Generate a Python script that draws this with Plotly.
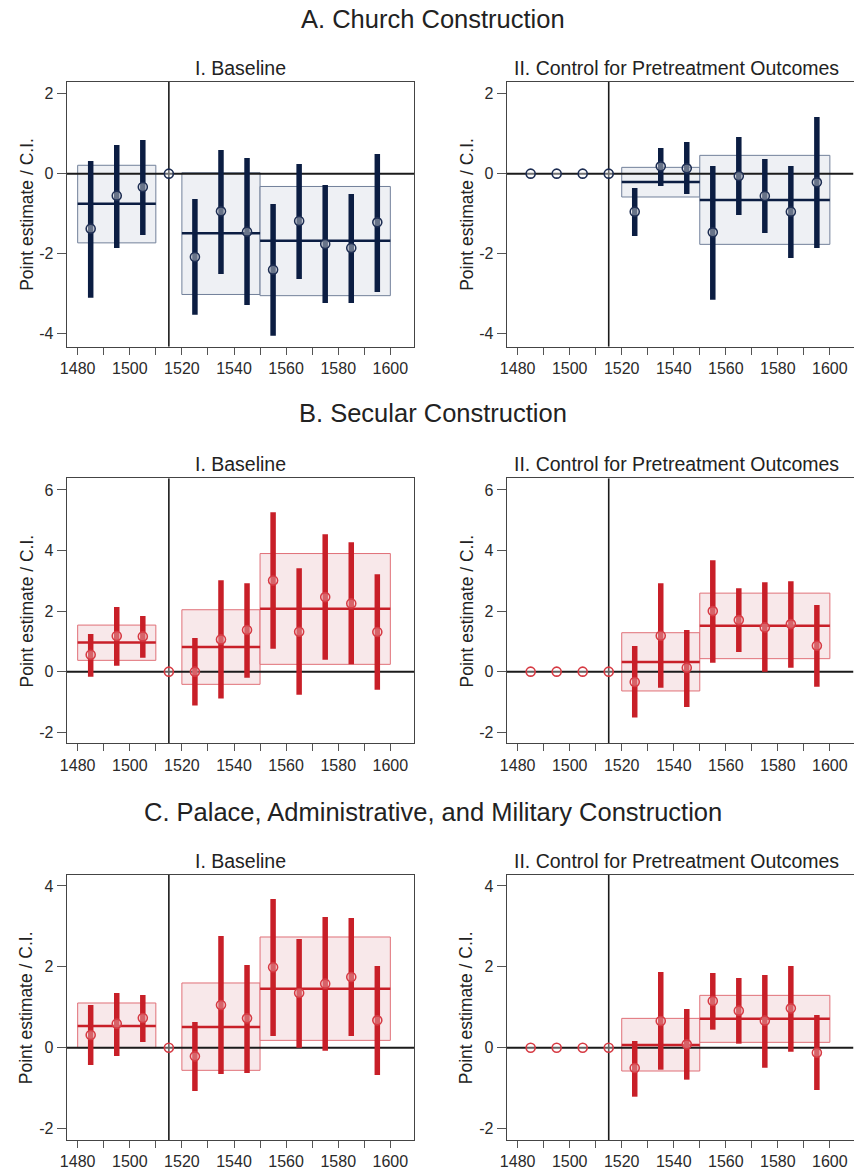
import plotly.graph_objects as go
from plotly.subplots import make_subplots

# ---------------------------------------------------------------- data
YEARS = [1485, 1495, 1505, 1515, 1525, 1535, 1545, 1555, 1565, 1575, 1585, 1595]
REF_YEAR = 1515
PERIOD_START = [1480, 1520, 1550]
PERIOD_END = [1510, 1550, 1600]

X_TICKS = list(range(1480, 1601, 10))
X_TICK_TEXT = [str(v) if v % 20 == 0 else "" for v in X_TICKS]

A_YTICKS = [-4, -2, 0, 2]
B_YTICKS = [-2, 0, 2, 4, 6]
C_YTICKS = [-2, 0, 2, 4]

SECTION_TITLES = [
    "A. Church Construction",
    "B. Secular Construction",
    "C. Palace, Administrative, and Military Construction",
]
COLUMN_TITLES = ["I. Baseline", "II. Control for Pretreatment Outcomes"]
Y_TITLE = "Point estimate / C.I."

# A. Church construction, baseline
a1_est = [-1.375, -0.55, -0.333, 0, -2.083, -0.942, -1.45, -2.4, -1.183, -1.758, -1.858, -1.217]
a1_lo = [-3.1, -1.858, -1.533, None, -3.525, -2.508, -3.283, -4.05, -2.633, -3.233, -3.233, -2.958]
a1_hi = [0.317, 0.717, 0.842, None, -0.633, 0.592, 0.392, -0.758, 0.242, -0.283, -0.508, 0.492]
a1_box_lo = [-1.73, -3.02, -3.05]
a1_box_hi = [0.21, 0.025, -0.32]
a1_box_mean = [-0.75, -1.49, -1.675]

# A. Church construction, pretreatment controls
a2_est = [0, 0, 0, 0, -0.95, 0.183, 0.133, -1.467, -0.058, -0.558, -0.95, -0.217]
a2_lo = [None, None, None, None, -1.558, -0.308, -0.508, -3.15, -1.033, -1.483, -2.108, -1.858]
a2_hi = [None, None, None, None, -0.358, 0.642, 0.792, 0.192, 0.917, 0.367, 0.192, 1.417]
a2_box_lo = [None, -0.583, -1.767]
a2_box_hi = [None, 0.158, 0.458]
a2_box_mean = [None, -0.208, -0.658]

# B. Secular construction, baseline
b1_est = [0.56, 1.176, 1.165, 0, 0.0, 1.066, 1.374, 3.01, 1.319, 2.462, 2.253, 1.308]
b1_lo = [-0.165, 0.198, 0.462, None, -1.12, -0.89, -0.198, 0.758, -0.758, 0.396, 0.242, -0.593]
b1_hi = [1.242, 2.132, 1.835, None, 1.11, 3.02, 2.923, 5.264, 3.418, 4.538, 4.275, 3.22]
b1_box_lo = [0.374, -0.418, 0.242]
b1_box_hi = [1.538, 2.044, 3.9]
b1_box_mean = [0.967, 0.813, 2.077]

# B. Secular construction, pretreatment controls
b2_est = [0, 0, 0, 0, -0.341, 1.187, 0.132, 2.0, 1.703, 1.462, 1.571, 0.857]
b2_lo = [None, None, None, None, -1.516, -0.527, -1.165, 0.297, 0.648, 0.0, 0.132, -0.495]
b2_hi = [None, None, None, None, 0.846, 2.923, 1.374, 3.681, 2.758, 2.956, 2.989, 2.198]
b2_box_lo = [None, -0.637, 0.429]
b2_box_hi = [None, 1.286, 2.593]
b2_box_mean = [None, 0.319, 1.516]

# C. Palace, administrative and military construction, baseline
c1_est = [0.313, 0.594, 0.734, 0, -0.214, 1.055, 0.725, 1.987, 1.352, 1.583, 1.748, 0.676]
c1_lo = [-0.429, -0.206, 0.14, None, -1.072, -0.651, -0.627, 0.289, 0.0, -0.074, 0.289, -0.676]
c1_hi = [1.055, 1.352, 1.303, None, 0.635, 2.762, 2.045, 3.677, 2.688, 3.232, 3.207, 2.02]
c1_box_lo = [0.0, -0.56, 0.181]
c1_box_hi = [1.105, 1.6, 2.737]
c1_box_mean = [0.536, 0.511, 1.459]

# C. Palace, administrative and military construction, pretreatment controls
c2_est = [0, 0, 0, 0, -0.503, 0.66, 0.082, 1.154, 0.915, 0.668, 0.973, -0.124]
c2_lo = [None, None, None, None, -1.212, -0.544, -0.791, 0.445, 0.099, -0.495, -0.099, -1.047]
c2_hi = [None, None, None, None, 0.165, 1.871, 0.956, 1.847, 1.723, 1.797, 2.02, 0.808]
c2_box_lo = [None, -0.577, 0.132]
c2_box_hi = [None, 0.725, 1.294]
c2_box_mean = [None, 0.066, 0.717]

# ---------------------------------------------------------------- styling
FONT = "Liberation Sans, Arial, Helvetica, sans-serif"
W, H = 854, 1171

NAVY = dict(bar="#0b1d42", box_fill="#eef0f4", box_line="#72809a",
            mk_line="#1d2d52", mk_fill="rgba(255,255,255,0.38)")
RED = dict(bar="#c81f28", box_fill="#f8e8ea", box_line="#e07078",
           mk_line="#d63a43", mk_fill="rgba(255,255,255,0.3)")

X_RANGE = [1475.78, 1609.08]
Y_RANGES = {1: [-4.325, 2.3], 2: [-2.366, 6.383], 3: [-2.283, 4.27]}
Y_TICKS = {1: A_YTICKS, 2: B_YTICKS, 3: C_YTICKS}

# pixel frame of every panel
COL_PX = {1: (66.67, 414.0), 2: (506.67, 853.5)}
ROW_PX = {1: (81.67, 346.67), 2: (478.33, 743.33), 3: (875.0, 1140.0)}

panels = [
    (1, 1, a1_est, a1_lo, a1_hi, a1_box_lo, a1_box_hi, a1_box_mean, NAVY),
    (1, 2, a2_est, a2_lo, a2_hi, a2_box_lo, a2_box_hi, a2_box_mean, NAVY),
    (2, 1, b1_est, b1_lo, b1_hi, b1_box_lo, b1_box_hi, b1_box_mean, RED),
    (2, 2, b2_est, b2_lo, b2_hi, b2_box_lo, b2_box_hi, b2_box_mean, RED),
    (3, 1, c1_est, c1_lo, c1_hi, c1_box_lo, c1_box_hi, c1_box_mean, RED),
    (3, 2, c2_est, c2_lo, c2_hi, c2_box_lo, c2_box_hi, c2_box_mean, RED),
]

fig = make_subplots(rows=3, cols=2)

for row, col, est, lo, hi, bx_lo, bx_hi, bx_mean, sty in panels:
    yr = Y_RANGES[row]
    # period confidence boxes
    for s, e, bl, bh in zip(PERIOD_START, PERIOD_END, bx_lo, bx_hi):
        if bl is None:
            continue
        fig.add_trace(go.Scatter(
            x=[s, e, e, s, s], y=[bl, bl, bh, bh, bl], mode="lines",
            fill="toself", fillcolor=sty["box_fill"],
            line=dict(color=sty["box_line"], width=1),
            hoverinfo="skip", showlegend=False), row=row, col=col)
    # reference lines
    fig.add_trace(go.Scatter(
        x=X_RANGE, y=[0, 0], mode="lines",
        line=dict(color="#1b1b1b", width=2),
        hoverinfo="skip", showlegend=False), row=row, col=col)
    fig.add_trace(go.Scatter(
        x=[REF_YEAR, REF_YEAR], y=yr, mode="lines",
        line=dict(color="#1b1b1b", width=1.6),
        hoverinfo="skip", showlegend=False), row=row, col=col)
    # confidence interval bars
    cx, cy = [], []
    for t, l, h in zip(YEARS, lo, hi):
        if l is None:
            continue
        cx += [t, t, None]
        cy += [l, h, None]
    fig.add_trace(go.Scatter(
        x=cx, y=cy, mode="lines", line=dict(color=sty["bar"], width=5.5),
        hoverinfo="skip", showlegend=False), row=row, col=col)
    # period averages
    mx, my = [], []
    for s, e, m in zip(PERIOD_START, PERIOD_END, bx_mean):
        if m is None:
            continue
        mx += [s, e, None]
        my += [m, m, None]
    fig.add_trace(go.Scatter(
        x=mx, y=my, mode="lines", line=dict(color=sty["bar"], width=2.5),
        hoverinfo="skip", showlegend=False), row=row, col=col)
    # point estimates
    fig.add_trace(go.Scatter(
        x=YEARS, y=est, mode="markers",
        marker=dict(symbol="circle", size=9, color=sty["mk_fill"],
                    line=dict(color=sty["mk_line"], width=1.6)),
        hoverinfo="skip", showlegend=False), row=row, col=col)

# axes
for row in (1, 2, 3):
    y0, y1 = ROW_PX[row]
    for col in (1, 2):
        x0, x1 = COL_PX[col]
        fig.update_xaxes(
            row=row, col=col, domain=[x0 / W, x1 / W], range=X_RANGE,
            automargin=False,
            tickmode="array", tickvals=X_TICKS, ticktext=X_TICK_TEXT,
            ticks="outside", ticklen=7, tickwidth=1, tickcolor="#555",
            showgrid=False, zeroline=False, showline=True, mirror=True,
            linecolor="#444", linewidth=1,
            tickfont=dict(family=FONT, size=16, color="#2a2a2a"))
        fig.update_yaxes(
            row=row, col=col, domain=[1 - y1 / H, 1 - y0 / H], range=Y_RANGES[row],
            automargin=False,
            tickmode="array", tickvals=Y_TICKS[row],
            ticktext=[str(v) for v in Y_TICKS[row]],
            ticks="outside", ticklen=9, tickwidth=1, tickcolor="#555",
            showgrid=False, zeroline=False, showline=True, mirror=True,
            linecolor="#444", linewidth=1,
            tickfont=dict(family=FONT, size=16, color="#2a2a2a"))

annotations = []
SECTION_Y_PX = [18.5, 413.5, 811.5]
for title, ypx in zip(SECTION_TITLES, SECTION_Y_PX):
    annotations.append(dict(
        text=title, x=433 / W, y=1 - ypx / H, xref="paper", yref="paper",
        xanchor="center", yanchor="middle", showarrow=False,
        font=dict(family=FONT, size=25.5, color="#222")))

COL_TITLE_X = {1: 240.5, 2: 676.0}
for row in (1, 2, 3):
    top = ROW_PX[row][0]
    for col in (1, 2):
        annotations.append(dict(
            text=COLUMN_TITLES[col - 1], x=COL_TITLE_X[col] / W, y=1 - (top - 14) / H,
            xref="paper", yref="paper", xanchor="center", yanchor="middle",
            showarrow=False, font=dict(family=FONT, size=19.5, color="#222")))
        annotations.append(dict(
            text=Y_TITLE, x=(COL_PX[col][0] - 40) / W,
            y=1 - (ROW_PX[row][0] + ROW_PX[row][1]) / 2 / H,
            xref="paper", yref="paper", xanchor="center", yanchor="middle",
            textangle=-90, showarrow=False,
            font=dict(family=FONT, size=17.5, color="#222")))

fig.update_layout(
    width=W, height=H, margin=dict(l=0, r=0, t=0, b=0),
    paper_bgcolor="white", plot_bgcolor="white",
    annotations=annotations, showlegend=False,
)

fig.write_html("out.html")
